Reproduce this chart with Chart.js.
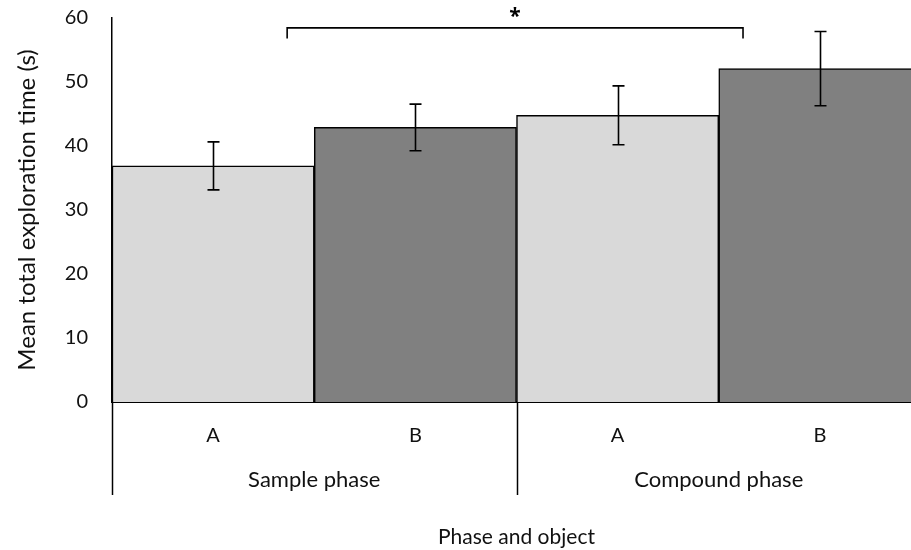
<!DOCTYPE html>
<html>
<head>
<meta charset="utf-8">
<script src="https://cdn.jsdelivr.net/npm/chart.js@4"></script>
<style>
  html, body { margin: 0; padding: 0; background: #fff; overflow: hidden; }
  canvas { display: block; }
</style>
</head>
<body>
<!-- a bit wider than the window so the last bar is cut at the edge -->
<canvas id="chart" width="921" height="550"></canvas>
<script>
'use strict';

// ── Data ─────────────────────────────────────────────────────────────────────
const objects  = ['A', 'B', 'A', 'B'];
const phases   = ['Sample phase', 'Compound phase'];
const means    = [36.9, 42.9, 44.8, 52.1];
const sems     = [3.75, 3.65, 4.6, 5.8];
const barFills = ['#d9d9d9', '#808080', '#d9d9d9', '#808080'];

// significance bracket: category index span and heights (s)
const sigFrom   = 0.366;
const sigTo     = 2.62;
const sigTop    = 58.45;
const sigFoot   = 56.8;
const sigLabel  = '*';

const FONT = 'Lato, "Open Sans", sans-serif';

// ── Plugins ──────────────────────────────────────────────────────────────────
const errorBars = {
  id: 'errorBars',
  afterDatasetsDraw(chart) {
    const { ctx, scales: { y } } = chart;
    const meta = chart.getDatasetMeta(0);
    ctx.save();
    ctx.strokeStyle = '#000';
    ctx.lineWidth = 1.6;
    meta.data.forEach((bar, i) => {
      const x  = Math.round(bar.x) + 0.5;
      const hi = y.getPixelForValue(means[i] + sems[i]);
      const lo = y.getPixelForValue(means[i] - sems[i]);
      ctx.beginPath();
      ctx.moveTo(x, hi); ctx.lineTo(x, lo);
      ctx.moveTo(x - 6, hi); ctx.lineTo(x + 6, hi);
      ctx.moveTo(x - 6, lo); ctx.lineTo(x + 6, lo);
      ctx.stroke();
    });
    ctx.restore();
  }
};

const sigBracket = {
  id: 'sigBracket',
  afterDatasetsDraw(chart) {
    const { ctx, scales: { x, y } } = chart;
    const x1 = x.getPixelForValue(sigFrom);
    const x2 = x.getPixelForValue(sigTo);
    const yt = y.getPixelForValue(sigTop);
    const yf = y.getPixelForValue(sigFoot);
    ctx.save();
    ctx.strokeStyle = '#000';
    ctx.lineWidth = 1.6;
    ctx.beginPath();
    ctx.moveTo(x1, yf); ctx.lineTo(x1, yt); ctx.lineTo(x2, yt); ctx.lineTo(x2, yf);
    ctx.stroke();
    ctx.fillStyle = '#000';
    ctx.font = 'bold 21px "Open Sans", sans-serif';
    ctx.textAlign = 'center';
    ctx.textBaseline = 'middle';
    ctx.fillText(sigLabel, (x1 + x2) / 2, yt - 11);
    ctx.restore();
  }
};

// second row of category labels with the group dividers
const phaseAxis = {
  id: 'phaseAxis',
  afterDraw(chart) {
    const { ctx, scales: { x }, chartArea } = chart;
    const step = x.getPixelForValue(1) - x.getPixelForValue(0);
    const bottom = chartArea.bottom + 93;
    ctx.save();
    ctx.strokeStyle = '#000';
    ctx.lineWidth = 1.5;
    ctx.fillStyle = '#111';
    ctx.font = `22px ${FONT}`;
    ctx.textAlign = 'center';
    ctx.textBaseline = 'middle';
    phases.forEach((p, g) => {
      const left = x.getPixelForValue(g * 2) - step / 2;
      const px = Math.round(left) + 0.5;
      ctx.beginPath();
      ctx.moveTo(px, chartArea.bottom);
      ctx.lineTo(px, bottom);
      ctx.stroke();
      ctx.fillText(p, left + step, chartArea.bottom + 78);
    });
    ctx.restore();
  }
};

// ── Chart ────────────────────────────────────────────────────────────────────
new Chart(document.getElementById('chart'), {
  type: 'bar',
  data: {
    labels: objects,
    datasets: [{
      data: means,
      backgroundColor: barFills,
      borderColor: '#000',
      borderWidth: 1.5,
      categoryPercentage: 1,
      barPercentage: 1,
    }],
  },
  options: {
    responsive: false,
    animation: false,
    events: [],
    layout: { padding: { top: 18, right: 0, bottom: 0, left: 0 } },
    plugins: { legend: { display: false }, tooltip: { enabled: false } },
    scales: {
      x: {
        grid: { display: false, drawTicks: false },
        border: { display: true, color: '#000', width: 2 },
        ticks: { color: '#111', font: { family: FONT, size: 20 }, padding: 22 },
        title: {
          display: true, text: 'Phase and object', color: '#111',
          font: { family: FONT, size: 21 }, padding: { top: 0, bottom: 0 },
        },
        afterFit: s => { s.height = 148; s.paddingLeft = 0; s.paddingRight = 0; },
      },
      y: {
        min: 0, max: 60,
        grid: { display: false, drawTicks: false },
        border: { display: true, color: '#000', width: 1.5 },
        ticks: { stepSize: 10, color: '#111', font: { family: FONT, size: 20 }, padding: 24 },
        title: {
          display: true, text: 'Mean total exploration time (s)', color: '#111',
          font: { family: FONT, size: 24 }, padding: { top: 13, bottom: 0 },
        },
        afterFit: s => { s.width = 112; s.paddingTop = 0; s.paddingBottom = 0; },
      },
    },
  },
  plugins: [errorBars, sigBracket, phaseAxis],
});
</script>
</body>
</html>
